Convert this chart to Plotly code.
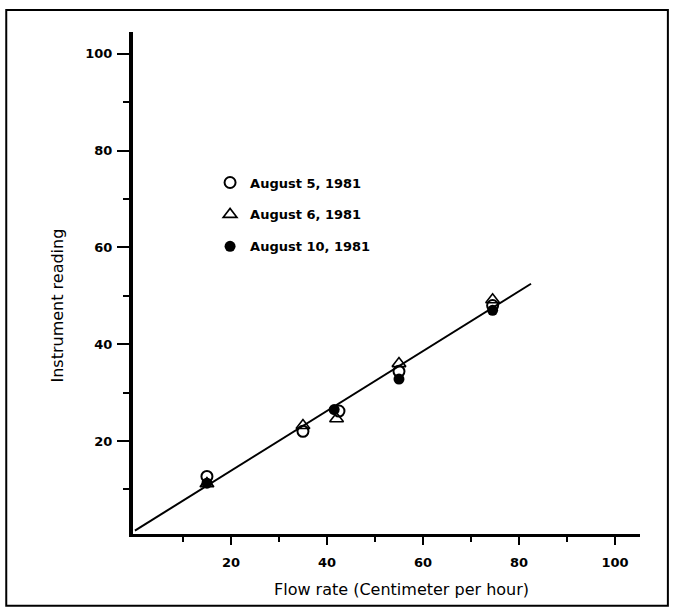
import plotly.graph_objects as go

# Data
aug5_x = [15, 35, 42.5, 55, 74.5]
aug5_y = [12.7, 22.0, 26.2, 34.4, 48.0]
aug6_x = [15, 35, 42, 55, 74.5]
aug6_y = [11.2, 23.2, 24.6, 36.0, 49.2]
aug10_x = [15, 41.5, 55, 74.5]
aug10_y = [11.3, 26.5, 32.8, 47.0]
fit_x = [0, 82.5]
fit_y = [1.5, 52.5]

x_ticks = [20, 40, 60, 80, 100]
x_minor = [10, 30, 50, 70, 90]
y_ticks = [20, 40, 60, 80, 100]
y_minor = [10, 30, 50, 70, 90]

FONT = "DejaVu Sans"

fig = go.Figure()
fig.add_trace(go.Scatter(x=fit_x, y=fit_y, mode="lines",
                         line=dict(color="black", width=2), showlegend=False))
fig.add_trace(go.Scatter(x=aug5_x, y=aug5_y, mode="markers", name="August 5, 1981",
                         legendgroup="a",
                         marker=dict(symbol="circle-open", size=11, color="black",
                                     line=dict(width=2, color="black"))))
fig.add_trace(go.Scatter(x=aug6_x, y=aug6_y, mode="markers", name="August 6, 1981",
                         legendgroup="b",
                         marker=dict(symbol="triangle-up-open", size=12, color="black",
                                     line=dict(width=1.6, color="black"))))
fig.add_trace(go.Scatter(x=aug10_x, y=aug10_y, mode="markers", name="August 10, 1981",
                         legendgroup="c",
                         marker=dict(symbol="circle", size=11, color="black")))

fig.update_layout(
    width=676, height=612,
    margin=dict(l=133, r=36, t=32, b=78),
    paper_bgcolor="white", plot_bgcolor="white",
    font=dict(family=FONT, color="black"),
    legend=dict(x=0.152, y=0.73, xanchor="left", yanchor="top",
                traceorder="grouped", tracegroupgap=12,
                font=dict(family=FONT, size=13, color="black", weight="bold"),
                bgcolor="rgba(0,0,0,0)", itemwidth=30),
    xaxis=dict(range=[-0.4, 105.2], showgrid=False, zeroline=False,
               showline=True, linecolor="black", linewidth=3,
               tickvals=x_ticks, ticks="outside", ticklen=8, tickwidth=1.5,
               tickcolor="black", ticklabelstandoff=6,
               tickfont=dict(family=FONT, size=13, weight="bold"),
               minor=dict(tickvals=x_minor, ticks="outside", ticklen=5,
                          tickwidth=1.5, tickcolor="black")),
    yaxis=dict(range=[0.8, 104.5], showgrid=False, zeroline=False,
               showline=True, linecolor="black", linewidth=4,
               tickvals=y_ticks, ticks="outside", ticklen=12, tickwidth=1.5,
               tickcolor="black", ticklabelstandoff=2,
               tickfont=dict(family=FONT, size=13, weight="bold"),
               minor=dict(tickvals=y_minor, ticks="outside", ticklen=6,
                          tickwidth=1.5, tickcolor="black")),
    annotations=[
        dict(text="Flow rate (Centimeter per hour)", xref="paper", yref="paper",
             x=0.53, y=-0.11, xanchor="center", yanchor="middle", showarrow=False,
             font=dict(family=FONT, size=16, color="black")),
        dict(text="Instrument reading", xref="paper", yref="paper",
             x=-0.148, y=0.455, xanchor="center", yanchor="middle", showarrow=False,
             textangle=-90, font=dict(family=FONT, size=16, color="black")),
    ],
    shapes=[dict(type="rect", xref="paper", yref="paper",
                 x0=-0.25, x1=1.055, y0=-0.143, y1=1.044,
                 line=dict(color="black", width=2))],
)

fig.write_html("out.html",
               config={"displayModeBar": False},
               post_script="document.body.style.margin='0px';")
